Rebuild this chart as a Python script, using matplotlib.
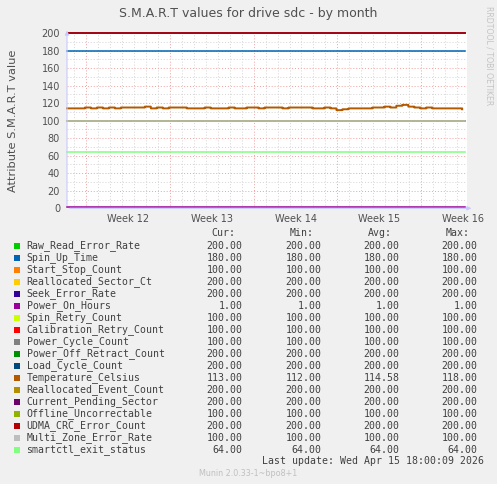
import matplotlib
matplotlib.use("Agg")
import matplotlib.pyplot as plt
from matplotlib.patches import Rectangle
import numpy as np

W, H = 497, 484

# series names, colours and legend table (Cur / Min / Avg / Max)
names = ["Raw_Read_Error_Rate", "Spin_Up_Time", "Start_Stop_Count", "Reallocated_Sector_Ct",
         "Seek_Error_Rate", "Power_On_Hours", "Spin_Retry_Count", "Calibration_Retry_Count",
         "Power_Cycle_Count", "Power_Off_Retract_Count", "Load_Cycle_Count", "Temperature_Celsius",
         "Reallocated_Event_Count", "Current_Pending_Sector", "Offline_Uncorrectable",
         "UDMA_CRC_Error_Count", "Multi_Zone_Error_Rate", "smartctl_exit_status"]
colors = ["#00CC00", "#0066B3", "#FF8000", "#FFCC00", "#330099", "#990099", "#CCFF00", "#FF0000",
          "#808080", "#008F00", "#00487D", "#B35A00", "#B38F00", "#6B006B", "#8FB300",
          "#B30000", "#BEBEBE", "#80FF80"]
cur = [200, 180, 100, 200, 200, 1, 100, 100, 100, 200, 200, 113, 200, 200, 100, 200, 100, 64]
mins = [200, 180, 100, 200, 200, 1, 100, 100, 100, 200, 200, 112, 200, 200, 100, 200, 100, 64]
avgs = [200, 180, 100, 200, 200, 1, 100, 100, 100, 200, 200, 114.58, 200, 200, 100, 200, 100, 64]
maxs = [200, 180, 100, 200, 200, 1, 100, 100, 100, 200, 200, 118, 200, 200, 100, 200, 100, 64]

# temperature attribute, one reading every half day (days since start of graph)
temp_days = [i * 0.5 for i in range(67)]
temp_vals = [114, 114, 114, 115, 114, 115, 114, 115, 114, 115, 115, 115, 115, 116, 114, 115,
             114, 115, 115, 115, 114, 114, 114, 115, 114, 114, 114, 115, 114, 114, 115, 115,
             114, 115, 115, 115, 114, 115, 115, 115, 115, 114, 114, 115, 114, 112, 113, 114,
             114, 114, 114, 115, 115, 116, 115, 117, 118, 116, 115, 114, 115, 114, 114, 114,
             114, 114, 113]

week_labels = ["Week 12", "Week 13", "Week 14", "Week 15", "Week 16"]
week_starts = [1.58, 8.58, 15.58, 22.58, 29.58]   # Monday 00:00 in days
x_end = 33.4

mono = "DejaVu Sans Mono"
txt = "#404040"

fig = plt.figure(figsize=(W / 100, H / 100), dpi=100, facecolor="#F0F0F0")
ax = fig.add_axes([67 / W, 1 - 208.3 / H, 400 / W, 175.3 / H])
ax.set_facecolor("white")
ax.set_xlim(0, x_end)
ax.set_ylim(0, 200)

# grid: minor every day / 10 units, major every week / 20 units
for d in np.arange(week_starts[0] - 1, x_end, 1.0):
    major = any(abs(d - w) < 1e-6 for w in week_starts)
    ax.axvline(d, color="#F2A0A0" if major else "#D4D4D4", lw=0.7,
               ls=(0, (1, 2)), zorder=1)
for v in range(10, 201, 10):
    ax.axhline(v, color="#F2A0A0" if v % 20 == 0 else "#D4D4D4", lw=0.7,
               ls=(0, (1, 2)), zorder=1)

# series lines
for name, col, val in zip(names, colors, cur):
    if name == "Temperature_Celsius":
        ax.plot(temp_days, temp_vals, color=col, lw=1.4, drawstyle="steps-post",
                zorder=3, clip_on=False, snap=False)
    else:
        ax.plot([0, temp_days[-1] + 0.2], [val, val], color=col, lw=1.1, zorder=3,
                clip_on=False)

for s in ax.spines.values():
    s.set_visible(False)
ax.annotate("", xy=(0, 1.03), xytext=(0, 0), xycoords="axes fraction",
            arrowprops=dict(arrowstyle="-|>", color="#C8C8FF", lw=0.8,
                            mutation_scale=6), annotation_clip=False)
ax.annotate("", xy=(1.018, 0), xytext=(0, 0), xycoords="axes fraction",
            arrowprops=dict(arrowstyle="-|>", color="#C8C8FF", lw=0.8,
                            mutation_scale=6), annotation_clip=False)

ax.set_yticks(range(0, 201, 20))
ax.set_yticklabels([str(v) for v in range(0, 201, 20)], fontsize=7, color="#505050")
ax.tick_params(axis="y", length=0, pad=5)
ax.set_xticks([w + 3.5 for w in week_starts])
ax.set_xticklabels(week_labels, fontsize=7, color="#505050")
ax.tick_params(axis="x", length=0, pad=4)
ax.set_ylabel("Attribute S.M.A.R.T value", fontsize=8.2, color="#505050", labelpad=17)

fig.text(248 / W, 1 - 13.5 / H, "S.M.A.R.T values for drive sdc - by month",
         ha="center", va="center", fontsize=9, color="#505050")
fig.text(489 / W, 1 - 6 / H, "RRDTOOL / TOBI OETIKER", rotation=-90, ha="center",
         va="top", fontsize=5.6, color="#C4C4C4")

# legend table
def px(x, y):
    return x / W, 1 - y / H

hy = 233.5
for lab, xr in zip(["Cur:", "Min:", "Avg:", "Max:"], [235, 313.5, 391.5, 469.5]):
    fig.text(*px(xr, hy), lab, ha="right", va="center", fontsize=7.1, family=mono, color=txt)
for i, (name, col) in enumerate(zip(names, colors)):
    y = 245.7 + 12 * i
    fig.patches.append(Rectangle(px(14, y + 3), 6 / W, 6 / H, transform=fig.transFigure,
                                 facecolor=col, edgecolor="none"))
    fig.text(*px(26.5, y), name, ha="left", va="center", fontsize=7.1, family=mono, color=txt)
    for vals, xr in zip([cur, mins, avgs, maxs], [242.5, 321.5, 399.5, 477.5]):
        fig.text(*px(xr, y), "%.2f" % vals[i], ha="right", va="center", fontsize=7.1,
                 family=mono, color=txt)

fig.text(*px(483.5, 461.3), "Last update: Wed Apr 15 18:00:09 2026", ha="right", va="center",
         fontsize=7.1, family=mono, color=txt)
fig.text(*px(248, 473.3), "Munin 2.0.33-1~bpo8+1", ha="center", va="center",
         fontsize=5.8, color="#C0C0C0")

fig.savefig("out.png", dpi=100, facecolor=fig.get_facecolor())
